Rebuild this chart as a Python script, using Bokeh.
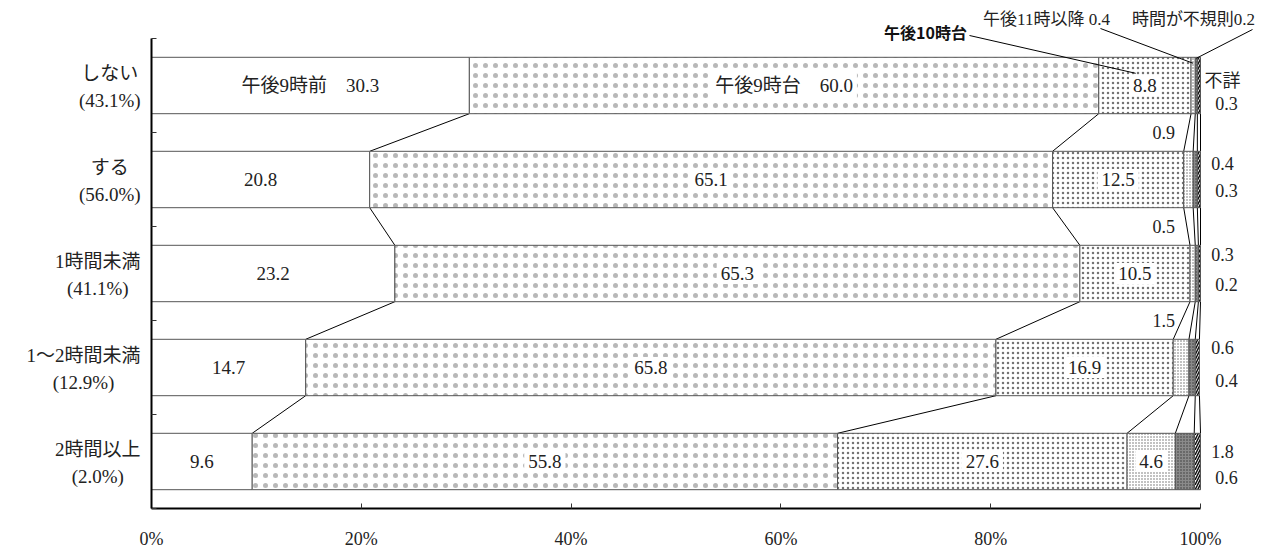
import unicodedata

from bokeh.core.properties import value
from bokeh.embed import file_html
from bokeh.models import Arrow, ColumnDataSource, FixedTicker, Label, Range1d
from bokeh.plotting import figure
from bokeh.resources import INLINE

# ---- data -------------------------------------------------------------
categories = ["しない", "する", "1時間未満", "1～2時間未満", "2時間以上"]
shares = ["(43.1%)", "(56.0%)", "(41.1%)", "(12.9%)", "(2.0%)"]
series_names = ["午後9時前", "午後9時台", "午後10時台", "午後11時以降", "時間が不規則", "不詳"]
before_9pm = [30.3, 20.8, 23.2, 14.7, 9.6]
at_9pm = [60.0, 65.1, 65.3, 65.8, 55.8]
at_10pm = [8.8, 12.5, 10.5, 16.9, 27.6]
after_11pm = [0.4, 0.9, 0.5, 1.5, 4.6]
irregular = [0.2, 0.4, 0.3, 0.6, 1.8]
unknown = [0.3, 0.3, 0.2, 0.4, 0.6]
x_ticks = [0, 20, 40, 60, 80, 100]
x_tick_labels = ["0%", "20%", "40%", "60%", "80%", "100%"]

series = [before_9pm, at_9pm, at_10pm, after_11pm, irregular, unknown]

# ---- layout -----------------------------------------------------------
W, H = 1268, 548
LEFT, RIGHT, TOP, BOTTOM = 151, 1200, 38, 508   # where 0%/100% and the category band sit
N = len(categories)
PX_PER_X = (RIGHT - LEFT) / 100.0
PX_PER_Y = (BOTTOM - TOP) / N
BAR_H = 0.6

SERIF = "Liberation Serif, Noto Sans CJK JP"
GOTHIC = "Noto Sans CJK JP"


def dy(px):
    """Vertical screen offset (px, downwards) -> data units."""
    return -px / PX_PER_Y


def sx(px):
    return (px - LEFT) / PX_PER_X


def sy(px):
    return N - (px - TOP) / PX_PER_Y


def text_width(s, size):
    w = 0.0
    for ch in s:
        if unicodedata.east_asian_width(ch) in "WF":
            w += 1.0
        elif ch in ".()":
            w += 0.3
        elif ch == "%":
            w += 0.83
        else:
            w += 0.5
    return w * size


ys = [N - 0.5 - i for i in range(N)]

styles = [
    dict(fill_color="white"),
    dict(fill_color="white", hatch_pattern="dot", hatch_scale=10,
         hatch_color="black", hatch_alpha=0.28),
    dict(fill_color="white", hatch_pattern="dot", hatch_scale=5,
         hatch_color="black", hatch_alpha=0.55),
    dict(fill_color="white", hatch_pattern="dot", hatch_scale=3,
         hatch_color="black", hatch_alpha=0.6),
    dict(fill_color="#8a8a8a", hatch_pattern="dot", hatch_scale=3,
         hatch_color="black", hatch_alpha=0.6),
    dict(fill_color="white", hatch_pattern="right_diagonal_line", hatch_scale=5,
         hatch_color="#111", hatch_weight=1.5),
]

p = figure(
    width=W, height=H,
    x_range=Range1d(-LEFT / PX_PER_X, 100 + (W - RIGHT) / PX_PER_X),
    y_range=Range1d(-(H - BOTTOM) / PX_PER_Y, N + TOP / PX_PER_Y),
    output_backend="svg", toolbar_location=None,
    min_border=0,
)
p.background_fill_color = "white"
p.border_fill_color = "white"
p.outline_line_color = None
p.xgrid.visible = False
p.ygrid.visible = False

# x axis along the bottom of the category band, percent ticks pointing up
xa = p.xaxis[0]
xa.fixed_location = 0
xa.bounds = (0, 100)
xa.ticker = FixedTicker(ticks=x_ticks)
xa.major_label_overrides = {t: lab for t, lab in zip(x_ticks, x_tick_labels)}
xa.major_label_text_font = SERIF
xa.major_label_text_font_size = "18px"
xa.major_label_text_color = "#222"
xa.major_label_standoff = 20
xa.major_tick_in = 5
xa.major_tick_out = 0
xa.minor_tick_line_color = None
xa.axis_line_width = 2
xa.axis_line_color = "black"
xa.major_tick_line_color = "#333"

# y axis at 0%, with short ticks separating the categories
ya = p.yaxis[0]
ya.fixed_location = 0
ya.bounds = (0, N)
ya.ticker = FixedTicker(ticks=list(range(N + 1)))
ya.major_label_overrides = {t: "" for t in range(N + 1)}
ya.major_label_standoff = 0
ya.major_tick_in = 5
ya.major_tick_out = 0
ya.minor_tick_line_color = None
ya.axis_line_width = 2
ya.axis_line_color = "black"
ya.major_tick_line_color = "#333"

# cumulative boundaries of every stacked segment
starts = []
ends = []
run = [0.0] * N
for vals in series:
    starts.append(list(run))
    run = [r + v for r, v in zip(run, vals)]
    ends.append(list(run))

# connector lines between consecutive bars
x0s, y0s, x1s, y1s = [], [], [], []
for k in range(len(series)):
    for i in range(N - 1):
        x0s.append(ends[k][i])
        y0s.append(ys[i] - BAR_H / 2)
        x1s.append(ends[k][i + 1])
        y1s.append(ys[i + 1] + BAR_H / 2)
p.segment(x0=x0s, y0=y0s, x1=x1s, y1=y1s, line_color="black", line_width=1)

# stacked bars
for k, vals in enumerate(series):
    src = ColumnDataSource(dict(y=ys, left=starts[k], right=ends[k]))
    p.hbar(y="y", left="left", right="right", height=BAR_H, source=src,
           line_color="#555", line_width=1, **styles[k])

# value labels inside the bars
lab_x, lab_y, lab_t = [], [], []
for k in (0, 1, 2):
    for i in range(N):
        v = series[k][i]
        t = f"{v:.1f}"
        if i == 0 and k < 2:
            t = f"{series_names[k]}\u3000{t}"
        lab_x.append(starts[k][i] + v / 2)
        lab_y.append(ys[i])
        lab_t.append(t)
i_last = N - 1
lab_x.append(starts[3][i_last] + after_11pm[i_last] / 2)
lab_y.append(ys[i_last])
lab_t.append(f"{after_11pm[i_last]:.1f}")

p.text(x="x", y="y", text="t", source=ColumnDataSource(dict(x=lab_x, y=lab_y, t=lab_t)),
       text_font=value(SERIF), text_font_size="19px", text_color="#222",
       text_align="center", text_baseline="middle",
       background_fill_color="white", padding=4)

# "after 11pm" values placed in the gap above bars 2-4
gap_x, gap_y, gap_t = [], [], []
for i in range(1, N - 1):
    gap_x.append(96.5)
    gap_y.append(ys[i] + 0.5)
    gap_t.append(f"{after_11pm[i]:.1f}")
p.text(x="x", y="y", text="t", source=ColumnDataSource(dict(x=gap_x, y=gap_y, t=gap_t)),
       text_font=value(SERIF), text_font_size="18px", text_color="#222",
       text_align="center", text_baseline="middle")

# category labels left of the axis: block right-aligned, lines centred
BLOCK_RIGHT = 140
for i in range(N):
    w = max(text_width(categories[i], 19), text_width(shares[i], 19))
    cx = sx(BLOCK_RIGHT - w / 2)
    for t, off in ((categories[i], -12), (shares[i], 15)):
        p.add_layout(Label(x=cx, y=ys[i] + dy(off), text=t, text_font=SERIF,
                           text_font_size="19px", text_color="#222",
                           text_align="center", text_baseline="middle"))

# right-hand labels: irregular (upper) and unknown (lower)
upper_off = [-5, -16, -19, -20, -10]
lower_off = [18, 11, 11, 13, 16]
for i in range(N):
    top_text = series_names[5] if i == 0 else f"{irregular[i]:.1f}"
    p.add_layout(Label(x=sx(1222), y=ys[i] + dy(upper_off[i]), text=top_text,
                       text_font=SERIF, text_font_size="18px", text_color="#222",
                       text_align="center", text_baseline="middle"))
    p.add_layout(Label(x=sx(1226), y=ys[i] + dy(lower_off[i]), text=f"{unknown[i]:.1f}",
                       text_font=SERIF, text_font_size="18px", text_color="#222",
                       text_align="center", text_baseline="middle"))

# callouts above the first bar
bar_top = ys[0] + BAR_H / 2
p.add_layout(Label(x=sx(925), y=sy(31), text=series_names[2], text_font=GOTHIC,
                   text_font_style="bold", text_font_size="16px", text_color="#111",
                   text_align="center", text_baseline="middle"))
p.add_layout(Arrow(end=None, x_start=sx(969), y_start=sy(35),
                   x_end=starts[2][0] + at_10pm[0] * 0.4, y_end=bar_top + dy(16),
                   line_color="black", line_width=1))

p.add_layout(Label(x=sx(1046), y=sy(19), text=f"{series_names[3]} {after_11pm[0]:.1f}",
                   text_font=SERIF, text_font_size="17px", text_color="#222",
                   text_align="center", text_baseline="middle"))
p.add_layout(Arrow(end=None, x_start=sx(1100), y_start=sy(28),
                   x_end=starts[3][0] + after_11pm[0] / 2, y_end=bar_top + dy(6),
                   line_color="black", line_width=1))

p.add_layout(Label(x=sx(1193), y=sy(19), text=f"{series_names[4]}{irregular[0]:.1f}",
                   text_font=SERIF, text_font_size="17px", text_color="#222",
                   text_align="center", text_baseline="middle"))
p.add_layout(Arrow(end=None, x_start=sx(1252), y_start=sy(29),
                   x_end=starts[4][0] + irregular[0] / 2, y_end=bar_top + dy(1),
                   line_color="black", line_width=1))

open("out.html", "w").write(file_html(p, INLINE))
